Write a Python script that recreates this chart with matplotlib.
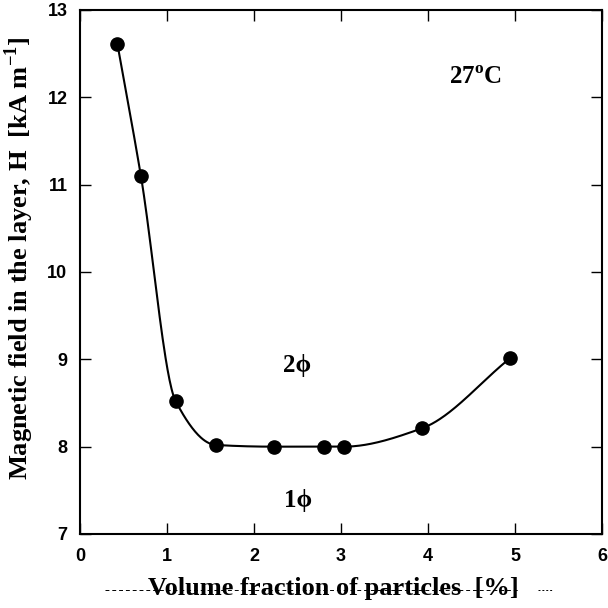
import numpy as np
import matplotlib.pyplot as plt
from matplotlib.lines import Line2D

plt.rcParams['mathtext.fontset'] = 'custom'
plt.rcParams['mathtext.rm'] = 'Liberation Serif:bold'
plt.rcParams['mathtext.bf'] = 'Liberation Serif:bold'

# measured points
volume_fraction = [0.43, 0.70, 1.10, 1.56, 2.23, 2.80, 3.03, 3.93, 4.94]
field_H = [12.61, 11.10, 8.52, 8.02, 8.00, 8.00, 8.00, 8.21, 9.01]

x_ticks = [0, 1, 2, 3, 4, 5, 6]
y_ticks = [7, 8, 9, 10, 11, 12, 13]


def pchip(xk, yk, xs):
    # monotone cubic through the measured points (for the guide line)
    xk = np.asarray(xk, float)
    yk = np.asarray(yk, float)
    h = np.diff(xk)
    d = np.diff(yk) / h
    m = np.zeros_like(yk)
    for i in range(1, len(xk) - 1):
        if d[i - 1] * d[i] > 0:
            w1 = 2 * h[i] + h[i - 1]
            w2 = h[i] + 2 * h[i - 1]
            m[i] = (w1 + w2) / (w1 / d[i - 1] + w2 / d[i])
    m[0] = d[0]
    m[-1] = d[-1]
    idx = np.clip(np.searchsorted(xk, xs) - 1, 0, len(xk) - 2)
    t = (xs - xk[idx]) / h[idx]
    h00 = 2 * t**3 - 3 * t**2 + 1
    h10 = t**3 - 2 * t**2 + t
    h01 = -2 * t**3 + 3 * t**2
    h11 = t**3 - t**2
    return (h00 * yk[idx] + h10 * h[idx] * m[idx]
            + h01 * yk[idx + 1] + h11 * h[idx] * m[idx + 1])


fig = plt.figure(figsize=(6.08, 6.08), dpi=100)
ax = fig.add_axes([80 / 608, 1 - 534 / 608, 522 / 608, 524 / 608])

xs = np.linspace(volume_fraction[0], volume_fraction[-1], 400)
ax.plot(xs, pchip(volume_fraction, field_H, xs), color='black', lw=1.5)
ax.plot(volume_fraction, field_H, 'o', color='black', markersize=9.5)

ax.set_xlim(0, 6)
ax.set_ylim(7, 13)
ax.set_xticks(x_ticks)
ax.set_yticks(y_ticks)
ax.tick_params(direction='in', top=True, right=True, length=8, width=1)
ax.tick_params(axis='x', pad=10)
ax.tick_params(axis='y', pad=9)
for lab in ax.get_xticklabels() + ax.get_yticklabels():
    lab.set_fontfamily('Liberation Sans')
    lab.set_fontweight('bold')
    lab.set_fontsize(13)
for s in ax.spines.values():
    s.set_linewidth(1.5)

serif = dict(family=['Liberation Serif', 'DejaVu Serif'], fontweight='bold')
ax.text(4.55, 12.23, r'27$^{\mathrm{o}}$C', fontsize=18, ha='center', va='center', **serif)
ax.text(2.49, 8.93, '2ϕ', fontsize=18, ha='center', va='center', **serif)
ax.text(2.51, 7.38, '1ϕ', fontsize=18, ha='center', va='center', **serif)

# the dashed rule that runs through the x label in the original
fig.add_artist(Line2D([105 / 608, 520 / 608], [1 - 590 / 608] * 2, color='black',
                      lw=0.7, dashes=(4, 3)))
fig.add_artist(Line2D([538 / 608, 552 / 608], [1 - 590 / 608] * 2, color='black',
                      lw=0.7, dashes=(2, 2)))
fig.text(333 / 608, 1 - 589 / 608, 'Volume fraction of particles  [%]',
         fontsize=19, ha='center', va='center', **serif)
fig.text(19 / 608, 1 - 258 / 608, r'Magnetic field in the layer, H  [kA m$^{\mathrm{-1}}$]',
         fontsize=19, ha='center', va='center', rotation=90, **serif)

fig.savefig('out.png', dpi=100)
